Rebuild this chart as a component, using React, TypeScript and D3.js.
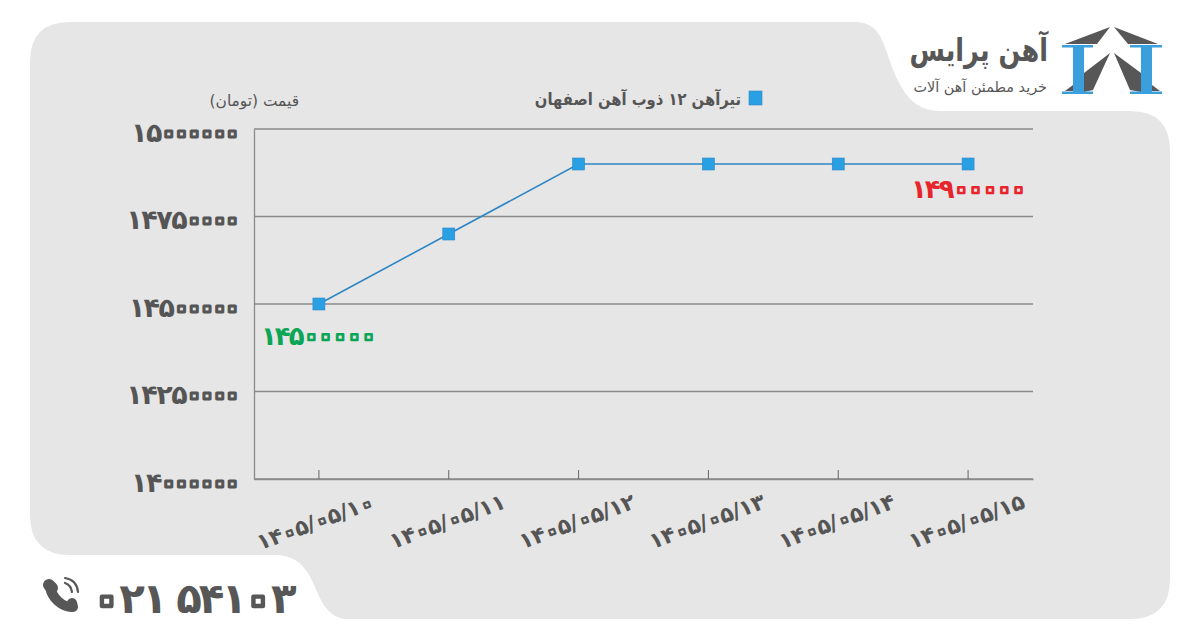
import { useRef, useEffect } from 'react';
import * as d3 from 'd3';

const dates = ['1405/05/10', '1405/05/11', '1405/05/12', '1405/05/13', '1405/05/14', '1405/05/15'];
const prices = [14500000, 14700000, 14900000, 14900000, 14900000, 14900000];
const yTicks = [14000000, 14250000, 14500000, 14750000, 15000000];
const seriesName = 'تیرآهن ۱۲ ذوب آهن اصفهان';
const yTitle = 'قیمت (تومان)';
const brandName = 'آهن پرایس';
const brandTagline = 'خرید مطمئن آهن آلات';
const phone = '021 54103';

const FONT = '"DejaVu Sans", sans-serif';
const TEXT = '#555555';
const AXIS = '#8a8a8a';
const BLUE = '#2aa0e4';
const LINE = '#2f86c5';
const PANEL = '#e6e6e6';
const ZERO = '۰';
const ZERO_ADV = 0.55;
const ZERO_SCALE = 1.3;

const fa = (v: string | number) => String(v).replace(/\d/g, (d) => '۰۱۲۳۴۵۶۷۸۹'[+d]);

// DejaVu draws the Persian zero as a small dot, so it is enlarged and outlined to read as a ring
function digits(
  text: d3.Selection<any, any, any, any>,
  opts: { color: string; size: number; ring: number; zeroAdv: number; gap: number; bg?: string },
) {
  const zeroSize = opts.size * ZERO_SCALE;
  const drop = 0.3 * opts.size * (ZERO_SCALE - 1);
  const trim = (opts.zeroAdv - ZERO_ADV * zeroSize) / 2;
  text.each(function () {
    const el = d3.select(this);
    const label = el.text();
    el.text(null)
      .attr('font-family', FONT)
      .attr('font-weight', 700)
      .attr('font-size', opts.size)
      .attr('direction', 'ltr')
      .attr('fill', opts.color);
    const runs = label.match(/۰+|[^۰]+/g) ?? [];
    let after = 0;
    runs.forEach((run, r) => {
      const isZero = run[0] === ZERO;
      const dx = Array.from(run).map((_, i) => {
        const before = isZero ? trim : 0;
        if (i === 0) return after + before;
        return isZero ? trim * 2 : opts.gap;
      });
      const s = el.append('tspan').text(run).attr('dx', dx.join(' '));
      if (isZero) {
        s.attr('font-size', zeroSize)
          .attr('fill', opts.bg ?? PANEL)
          .attr('stroke', opts.color)
          .attr('stroke-width', opts.ring)
          .attr('stroke-linejoin', 'round')
          .attr('dy', drop);
      } else if (r > 0) {
        s.attr('dy', -drop);
      }
      after = isZero ? trim : opts.gap + 1.5;
    });
  });
}

export default function App() {
  const svgRef = useRef<SVGSVGElement>(null);

  useEffect(() => {
    if (!svgRef.current) return;
    const svg = d3.select(svgRef.current);
    svg.selectAll('*').remove();

    // Panel with the two notches
    svg.append('path')
      .attr('fill', PANEL)
      .attr('d', 'M70 22 H855 C868 22 876 28 881 38 C888 52 892 72 902 88 C910 102 922 111 940 111 H1130 Q1170 111 1170 151 V579 Q1170 619 1130 619 H345 C330 617 323 605 318 594 C311 577 303 555 275 555 H70 Q30 555 30 515 V62 Q30 22 70 22 Z');

    const margin = { left: 254, right: 1033, top: 129, bottom: 479 };
    const x = d3.scaleBand<string>().domain(dates).range([margin.left, margin.right]);
    const y = d3.scaleLinear().domain([14000000, 15000000]).range([margin.bottom, margin.top]);
    const cx = (d: string) => (x(d) ?? 0) + x.bandwidth() / 2;

    // Grid
    svg.append('g')
      .selectAll('line')
      .data(yTicks)
      .join('line')
      .attr('x1', margin.left)
      .attr('x2', margin.right)
      .attr('y1', (d) => y(d))
      .attr('y2', (d) => y(d))
      .attr('stroke', AXIS)
      .attr('stroke-width', 1.3);

    // Y axis
    const yAxis = svg.append('g')
      .attr('transform', `translate(${margin.left},0)`)
      .call(d3.axisLeft(y).tickValues(yTicks).tickSize(0).tickPadding(11).tickFormat((d) => fa(d as number)));
    yAxis.select('.domain').attr('stroke', AXIS).attr('stroke-width', 1.3);
    yAxis.selectAll('text').attr('dy', 12);
    digits(yAxis.selectAll('text'), { color: TEXT, size: 27, ring: 3, zeroAdv: 10.6, gap: -1.5 });

    // X axis
    const xAxis = svg.append('g')
      .attr('transform', `translate(0,${margin.bottom})`)
      .call(d3.axisBottom(x).tickSizeInner(-9).tickSizeOuter(0).tickPadding(0).tickFormat((d) => fa(d)));
    xAxis.select('.domain').attr('stroke', AXIS).attr('stroke-width', 1.3);
    xAxis.selectAll('line').attr('stroke', '#666666');
    xAxis.selectAll('text')
      .attr('text-anchor', 'end')
      .attr('transform', 'translate(53,14) rotate(-20)');
    digits(xAxis.selectAll('text'), { color: TEXT, size: 22, ring: 2.2, zeroAdv: 11, gap: -0.5 });

    // Series
    const line = d3.line<number>().x((_, i) => cx(dates[i])).y((d) => y(d));
    svg.append('path')
      .datum(prices)
      .attr('fill', 'none')
      .attr('stroke', LINE)
      .attr('stroke-width', 1.6)
      .attr('d', line);
    svg.append('g')
      .selectAll('rect')
      .data(prices)
      .join('rect')
      .attr('x', (_, i) => cx(dates[i]) - 6)
      .attr('y', (d) => y(d) - 6)
      .attr('width', 12)
      .attr('height', 12)
      .attr('fill', BLUE)
      .attr('stroke', LINE)
      .attr('stroke-width', 0.6);

    // First and last value callouts
    const callout = (v: number, px: number, py: number, color: string) =>
      digits(
        svg.append('text').attr('x', px).attr('y', py).attr('text-anchor', 'middle').text(fa(v)),
        { color, size: 26, ring: 2.6, zeroAdv: 12.3, gap: -2 },
      );
    callout(prices[0], 320, 345, '#0aa555');
    callout(prices[prices.length - 1], 970, 198, '#e8242c');

    // Legend and axis title
    const label = (px: number, py: number, size: number, weight: number, sx: number, color: string, str: string) =>
      svg.append('text')
        .attr('transform', `translate(${px},${py}) scale(${sx},1)`)
        .attr('font-family', FONT)
        .attr('font-weight', weight)
        .attr('font-size', size)
        .attr('fill', color)
        .attr('direction', 'rtl')
        .attr('text-anchor', 'start')
        .text(str);
    svg.append('rect').attr('x', 749).attr('y', 91).attr('width', 13).attr('height', 14).attr('fill', BLUE).attr('stroke', LINE).attr('stroke-width', 0.6);
    label(741, 105, 17, 700, 0.87, TEXT, seriesName);
    label(299, 106, 15.4, 400, 1, TEXT, yTitle);

    // Logo
    const logo = svg.append('g');
    const gray = '#575757';
    [
      'M1110 27 L1097 44 H1065 Z',
      'M1114 27 L1158 44 H1128 Z',
      'M1110 53 L1093 90 L1084 92 V73 Z',
      'M1114 53 L1141 73 V92 L1130 90 Z',
      'M1073 85 V91 H1065 Z',
      'M1152 85 V91 H1160 Z',
    ].forEach((d) => logo.append('path').attr('d', d).attr('fill', gray));
    [
      'M1062 45 H1093 V47.5 H1084 V91.5 H1093 V94 H1062 V91.5 H1073 V47.5 H1062 Z',
      'M1130 45 H1162 V47.5 H1152 V91.5 H1162 V94 H1130 V91.5 H1141 V47.5 H1130 Z',
    ].forEach((d) => logo.append('path').attr('d', d).attr('fill', '#3a9fdc'));
    label(1048, 61, 32, 700, 0.8, gray, brandName);
    label(1047, 92, 14.4, 400, 1, gray, brandTagline);

    // Phone
    const icon = svg.append('g').attr('fill', 'none').attr('stroke', gray).attr('stroke-linecap', 'round');
    icon.append('path').attr('d', 'M50 587 C52 598 62 607 72 607').attr('stroke-width', 10);
    icon.append('path').attr('d', 'M49 585 L52 588').attr('stroke-width', 12);
    icon.append('path').attr('d', 'M72 603 L73 607').attr('stroke-width', 10);
    icon.append('path').attr('d', 'M65 583 Q71 585 72 592').attr('stroke-width', 2.2);
    icon.append('path').attr('d', 'M65 578 Q77 580 78 592').attr('stroke-width', 2.2);
    digits(
      svg.append('text').attr('x', 94).attr('y', 613).text(fa(phone)),
      { color: gray, size: 42, ring: 4.4, zeroAdv: 22, gap: -3, bg: '#ffffff' },
    );
  }, []);

  return <svg ref={svgRef} width={1200} height={641} style={{ position: 'absolute', left: 0, top: 0, background: '#fff' }} />;
}
